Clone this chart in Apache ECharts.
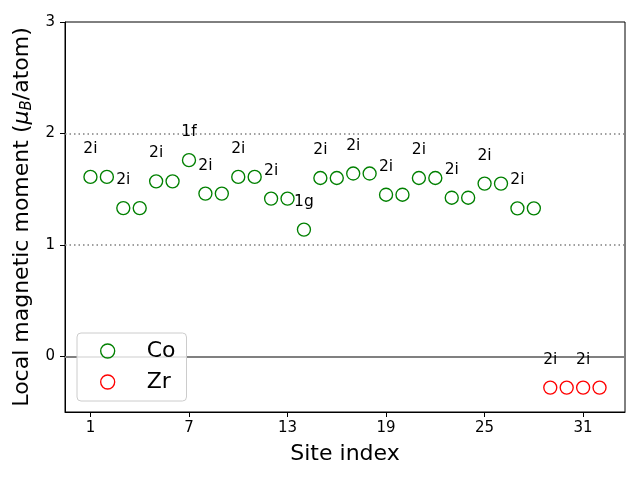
<!DOCTYPE html>
<html><head><meta charset="utf-8">
<script src="https://cdn.jsdelivr.net/npm/echarts@6/dist/echarts.min.js"></script>
<style>html,body{margin:0;padding:0;background:#fff}#c{width:640px;height:480px}</style>
</head><body><div id="c"></div>
<script>
const coSites = [1,2,3,4,5,6,7,8,9,10,11,12,13,14,15,16,17,18,19,20,21,22,23,24,25,26,27,28];
const coMoments = [1.61,1.61,1.33,1.33,1.57,1.57,1.76,1.46,1.46,1.61,1.61,1.415,1.415,1.137,1.60,1.60,1.64,1.64,1.45,1.45,1.60,1.60,1.423,1.423,1.55,1.55,1.328,1.328];
const coLabels = ['2i','','2i','','2i','','1f','2i','','2i','','2i','','1g','2i','','2i','','2i','','2i','','2i','','2i','','2i',''];
const zrSites = [29,30,31,32];
const zrMoments = [-0.281,-0.281,-0.281,-0.281];
const zrLabels = ['2i','','2i',''];
const xTicks = [1,7,13,19,25,31];
const yTicks = [0,1,2,3];
const refLines = [0,1,2];

const FONT = 'DejaVu Sans';
const GREEN = '#008000', RED = '#ff0000';
function pts(xs, ys, ls){ return xs.map((x,i)=>({value:[x,ys[i]], lbl:ls[i]})); }
const ptLabel = {show:true, position:'inside', offset:[0,-28], color:'#000', fontSize:15.5, fontFamily:FONT,
  formatter: p => p.data.lbl};
const hollow = c => ({color:'rgba(255,255,255,0)', borderColor:c, borderWidth:1.35, opacity:1});

const chart = echarts.init(document.getElementById('c'), null, {renderer:'canvas'});
chart.setOption({
  animation:false,
  textStyle:{fontFamily:FONT},
  grid:{left:65, right:15, top:22, bottom:68, show:true, borderColor:'#000', borderWidth:1, backgroundColor:'transparent'},
  xAxis:{type:'value', min:-0.55, max:33.55,
    name:'Site index', nameLocation:'middle', nameGap:31,
    nameTextStyle:{fontSize:22, color:'#000', fontFamily:FONT},
    axisLine:{show:true, onZero:false, lineStyle:{color:'#000', width:1}},
    axisTick:{show:true, length:5, lineStyle:{color:'#000'}, customValues:xTicks},
    axisLabel:{color:'#000', fontSize:15, margin:9, fontFamily:FONT, customValues:xTicks},
    splitLine:{show:false}},
  yAxis:{type:'value', min:-0.5, max:3,
    name:'Local magnetic moment ({i|μ}{sub|B}/atom)', nameLocation:'middle', nameGap:26, nameRotate:90,
    nameTextStyle:{fontSize:22, color:'#000', fontFamily:FONT,
      rich:{i:{fontSize:22, fontStyle:'italic', fontFamily:FONT, color:'#000'},
            sub:{fontSize:15, fontStyle:'italic', fontFamily:FONT, color:'#000', padding:[10,0,0,0], verticalAlign:'bottom'}}},
    axisLine:{show:true, onZero:false, lineStyle:{color:'#000', width:1}},
    axisTick:{show:true, length:5, lineStyle:{color:'#000'}, customValues:yTicks},
    axisLabel:{color:'#000', fontSize:15, margin:10, fontFamily:FONT, customValues:yTicks},
    splitLine:{show:false}},
  legend:{left:77, top:333, orient:'vertical', padding:[7,11,8,23], itemGap:9,
    itemWidth:14, itemHeight:14, backgroundColor:'rgba(255,255,255,0.8)',
    borderColor:'#cccccc', borderWidth:1, borderRadius:4,
    textStyle:{fontSize:22, color:'#000', fontFamily:FONT, lineHeight:22, padding:[0,0,0,27]},
    data:[{name:'Co', icon:'circle', itemStyle:hollow(GREEN)},{name:'Zr', icon:'circle', itemStyle:hollow(RED)}]},
  series:[
    {name:'Co', type:'scatter', symbol:'circle', symbolSize:13, z:3,
      itemStyle:hollow(GREEN),
      label:ptLabel, data:pts(coSites, coMoments, coLabels),
      markLine:{silent:true, symbol:'none', label:{show:false}, z:1,
        data: refLines.map(v=>({yAxis:v, lineStyle: v===0 ? {color:'#808080', width:2, type:'solid', opacity:1} : {color:'#808080', width:1.5, type:[1.5,3], opacity:1}}))}},
    {name:'Zr', type:'scatter', symbol:'circle', symbolSize:13, z:3,
      itemStyle:hollow(RED),
      label:ptLabel, data:pts(zrSites, zrMoments, zrLabels)}
  ]
});
</script></body></html>
